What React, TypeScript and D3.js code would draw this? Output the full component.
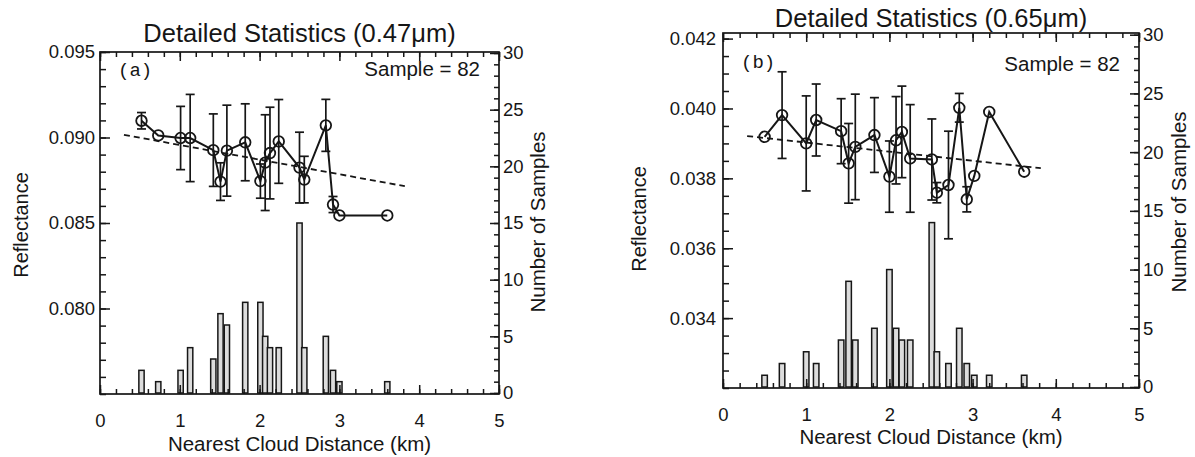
import React, { useEffect, useRef } from "react";
import * as d3 from "d3";

// ---------- data ----------
const xTickValues = [0, 1, 2, 3, 4, 5];
const countTickValues = [0, 5, 10, 15, 20, 25, 30];

// Panel (a) 0.47 um
const aTitle = "Detailed Statistics (0.47μm)";
const aReflTicks = [0.08, 0.085, 0.09, 0.095];
const aDist = [0.52, 0.73, 1.01, 1.13, 1.42, 1.51, 1.59, 1.82, 2.01, 2.07, 2.13, 2.24, 2.5, 2.56, 2.83, 2.92, 3.0, 3.6];
const aMean = [0.09098, 0.09012, 0.08997, 0.08997, 0.08926, 0.08742, 0.08923, 0.08972, 0.08745, 0.08853, 0.08909, 0.08977, 0.08824, 0.08754, 0.09071, 0.08608, 0.08544, 0.08544];
const aErr = [0.00048, 0, 0.00185, 0.00255, 0.00212, 0.0011, 0.00266, 0.00225, 0.001, 0.0028, 0.00268, 0.00245, 0.00207, 0.00136, 0.00152, 0.00047, 0, 0];
const aCount = [2, 1, 2, 4, 3, 7, 6, 8, 8, 5, 4, 4, 15, 4, 5, 2, 1, 1];
const aTrendX = [0.3, 3.82];
const aTrendY = [0.09016, 0.08715];

// Panel (b) 0.65 um
const bTitle = "Detailed Statistics (0.65μm)";
const bReflTicks = [0.034, 0.036, 0.038, 0.04, 0.042];
const bDist = [0.5, 0.71, 1.0, 1.12, 1.42, 1.51, 1.59, 1.82, 2.0, 2.08, 2.15, 2.25, 2.51, 2.57, 2.71, 2.84, 2.93, 3.02, 3.2, 3.62];
const bMean = [0.03919, 0.03981, 0.039, 0.03967, 0.03935, 0.03843, 0.0389, 0.03924, 0.03805, 0.03909, 0.03933, 0.03857, 0.03854, 0.03759, 0.03781, 0.04002, 0.0374, 0.03807, 0.0399, 0.03819];
const bErr = [0, 0.00124, 0.00136, 0.00103, 0.00093, 0.00114, 0.00151, 0.00107, 0.00102, 0.00125, 0.00131, 0.00154, 0.00116, 0.00029, 0.00154, 0.00041, 0.00036, 0, 0, 0];
const bCount = [1, 2, 3, 2, 4, 9, 4, 5, 10, 5, 4, 4, 14, 3, 2, 5, 2, 1, 1, 1];
const bTrendX = [0.29, 3.82];
const bTrendY = [0.03921, 0.03829];

const FONT = "'Liberation Sans', Arial, Helvetica, sans-serif";
const MONO = "'Liberation Mono', 'Courier New', monospace";
const INK = "#161616";

type Cfg = {
  label: string;
  title: string;
  reflTicks: number[];
  reflDomain: [number, number];
  reflMinorStep: number;
  dist: number[];
  mean: number[];
  err: number[];
  count: number[];
  trendX: number[];
  trendY: number[];
  x0: number; x1: number; yTop: number; yBottom: number;
  cTop: number; cBottom: number;
  titleY: number; labelY: number; sampleY: number; xTitleY: number;
  leftTitleX: number; leftTitleY: number; rightTitleX: number; rightTitleY: number;
  leftPad: number;
};

function Panel({ cfg }: { cfg: Cfg }) {
  const gRef = useRef<SVGGElement | null>(null);
  const x = d3.scaleLinear().domain([0, 5]).range([cfg.x0, cfg.x1]);
  const y = d3.scaleLinear().domain(cfg.reflDomain).range([cfg.yBottom, cfg.yTop]);
  const yc = d3.scaleLinear().domain([0, 30]).range([cfg.cBottom, cfg.cTop]);

  useEffect(() => {
    const g = d3.select(gRef.current);
    g.selectAll("*").remove();
    const style = (sel: any) => {
      sel.select(".domain").remove();
      sel.selectAll("line").attr("stroke", INK).attr("stroke-width", 1.5);
      sel.selectAll("text").attr("font-family", FONT).attr("font-size", 18.5).attr("fill", INK);
      sel.attr("font-family", null).attr("font-size", null);
    };
    const xMinor = d3.range(0, 5.0001, 0.2);
    const rMinor = d3.range(cfg.reflDomain[0], cfg.reflDomain[1] + 1e-9, cfg.reflMinorStep);
    const cMinor = d3.range(0, 30.001, 1);
    const blank = () => "";

    g.append("g").attr("transform", `translate(0,${cfg.yBottom})`)
      .call(d3.axisBottom(x).tickValues(xMinor).tickSizeInner(-5).tickSizeOuter(0).tickFormat(blank)).call(style);
    g.append("g").attr("transform", `translate(0,${cfg.yBottom})`)
      .call(d3.axisBottom(x).tickValues(xTickValues).tickSizeInner(-9).tickSizeOuter(0).tickPadding(20).tickFormat(d3.format("d"))).call(style);
    g.append("g").attr("transform", `translate(0,${cfg.yTop})`)
      .call(d3.axisTop(x).tickValues(xMinor).tickSizeInner(-5).tickSizeOuter(0).tickFormat(blank)).call(style);
    g.append("g").attr("transform", `translate(0,${cfg.yTop})`)
      .call(d3.axisTop(x).tickValues(xTickValues).tickSizeInner(-9).tickSizeOuter(0).tickFormat(blank)).call(style);

    g.append("g").attr("transform", `translate(${cfg.x0},0)`)
      .call(d3.axisLeft(y).tickValues(rMinor).tickSizeInner(-6).tickSizeOuter(0).tickFormat(blank)).call(style);
    g.append("g").attr("transform", `translate(${cfg.x0},0)`)
      .call(d3.axisLeft(y).tickValues(cfg.reflTicks).tickSizeInner(-10).tickSizeOuter(0).tickPadding(cfg.leftPad).tickFormat(d3.format(".3f"))).call(style);

    g.append("g").attr("transform", `translate(${cfg.x1},0)`)
      .call(d3.axisRight(yc).tickValues(cMinor).tickSizeInner(-5).tickSizeOuter(0).tickFormat(blank)).call(style);
    g.append("g").attr("transform", `translate(${cfg.x1},0)`)
      .call(d3.axisRight(yc).tickValues(countTickValues).tickSizeInner(-9).tickSizeOuter(0).tickPadding(4).tickFormat(d3.format("d"))).call(style);
  }, []);

  const halfBar = 0.033;
  const line = d3.line<number>().x((_, i) => x(cfg.dist[i])).y((d) => y(d));
  const trend = d3.line<number>().x((_, i) => x(cfg.trendX[i])).y((d) => y(d));
  const cap = 4.5;

  return (
    <g>
      {/* histogram */}
      {cfg.count.map((c, i) => (
        <rect key={"b" + i}
          x={x(cfg.dist[i] - halfBar)} width={x(cfg.dist[i] + halfBar) - x(cfg.dist[i] - halfBar)}
          y={yc(c)} height={yc(0) - yc(c)}
          fill="#dcdcdc" stroke={INK} strokeWidth={1.5} />
      ))}
      {/* trend */}
      <path d={trend(cfg.trendY) || ""} fill="none" stroke={INK} strokeWidth={1.8} strokeDasharray="6,4" />
      {/* error bars */}
      {cfg.err.map((e, i) => e > 0 ? (
        <g key={"e" + i} stroke={INK} strokeWidth={1.7}>
          <line x1={x(cfg.dist[i])} x2={x(cfg.dist[i])} y1={y(cfg.mean[i] + e)} y2={y(cfg.mean[i] - e)} />
          <line x1={x(cfg.dist[i]) - cap} x2={x(cfg.dist[i]) + cap} y1={y(cfg.mean[i] + e)} y2={y(cfg.mean[i] + e)} />
          <line x1={x(cfg.dist[i]) - cap} x2={x(cfg.dist[i]) + cap} y1={y(cfg.mean[i] - e)} y2={y(cfg.mean[i] - e)} />
        </g>
      ) : null)}
      <path d={line(cfg.mean) || ""} fill="none" stroke={INK} strokeWidth={2} />
      {cfg.mean.map((m, i) => (
        <circle key={"c" + i} cx={x(cfg.dist[i])} cy={y(m)} r={5.3} fill="none" stroke={INK} strokeWidth={1.8} />
      ))}
      <rect x={cfg.x0} y={cfg.yTop} width={cfg.x1 - cfg.x0} height={cfg.yBottom - cfg.yTop} fill="none" stroke={INK} strokeWidth={1.7} />
      <g ref={gRef} />
      <text x={(cfg.x0 + cfg.x1) / 2} y={cfg.titleY} textAnchor="middle" fontFamily={FONT} fontSize={25.5} fill={INK}>{cfg.title}</text>
      <text x={cfg.x0 + 18} y={cfg.labelY} fontFamily={MONO} fontSize={19} fill={INK}>{cfg.label}</text>
      <text x={cfg.x1 - 19} y={cfg.sampleY} textAnchor="end" fontFamily={FONT} fontSize={20.5} fill={INK}>Sample = 82</text>
      <text x={(cfg.x0 + cfg.x1) / 2} y={cfg.xTitleY} textAnchor="middle" fontFamily={FONT} fontSize={20.5} fill={INK}>Nearest Cloud Distance (km)</text>
      <text transform={`translate(${cfg.leftTitleX},${cfg.leftTitleY}) rotate(-90)`} textAnchor="middle" fontFamily={FONT} fontSize={20} fill={INK}>Reflectance</text>
      <text transform={`translate(${cfg.rightTitleX},${cfg.rightTitleY}) rotate(-90)`} textAnchor="middle" fontFamily={FONT} fontSize={20.5} fill={INK}>Number of Samples</text>
    </g>
  );
}

const cfgA: Cfg = {
  label: "(a)", title: aTitle, reflTicks: aReflTicks, reflDomain: [0.075, 0.095], reflMinorStep: 0.001,
  dist: aDist, mean: aMean, err: aErr, count: aCount, trendX: aTrendX, trendY: aTrendY,
  x0: 100, x1: 499, yTop: 52, yBottom: 394, cTop: 53, cBottom: 393,
  titleY: 42, labelY: 76, sampleY: 76, xTitleY: 451,
  leftTitleX: 28, leftTitleY: 225, rightTitleX: 545, rightTitleY: 222, leftPad: 5,
};

const cfgB: Cfg = {
  label: "(b)", title: bTitle, reflTicks: bReflTicks, reflDomain: [0.032, 0.04216], reflMinorStep: 0.0005,
  dist: bDist, mean: bMean, err: bErr, count: bCount, trendX: bTrendX, trendY: bTrendY,
  x0: 723, x1: 1139, yTop: 33, yBottom: 388, cTop: 34.7, cBottom: 387,
  titleY: 27, labelY: 68, sampleY: 71, xTitleY: 444,
  leftTitleX: 646, leftTitleY: 219, rightTitleX: 1186, rightTitleY: 202, leftPad: 7,
};

export default function App() {
  return (
    <svg width={1195} height={457} style={{ position: "absolute", left: 0, top: 0, background: "#fff" }}>
      <rect x={0} y={0} width={1195} height={457} fill="#fff" />
      <Panel cfg={cfgA} />
      <Panel cfg={cfgB} />
    </svg>
  );
}
